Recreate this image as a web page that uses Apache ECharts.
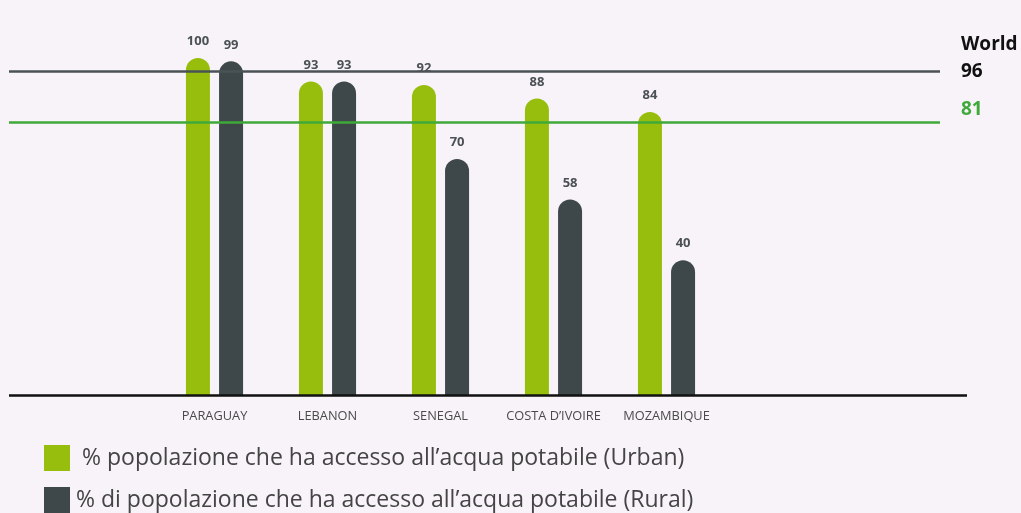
<!DOCTYPE html>
<html>
<head>
<meta charset="utf-8">
<script src="https://cdn.jsdelivr.net/npm/echarts@6/dist/echarts.min.js"></script>
<style>
html,body{margin:0;padding:0;background:#f7f3f8;}
#c{width:1021px;height:513px;}
</style>
</head>
<body>
<div id="c"></div>
<script>
const categories = ['PARAGUAY', 'LEBANON', 'SENEGAL', 'COSTA D\u2019IVOIRE', 'MOZAMBIQUE'];
const urbanValues = [100, 93, 92, 88, 84];
const ruralValues = [99, 93, 70, 58, 40];
const seriesNames = [
  '% popolazione che ha accesso all\u2019acqua potabile (Urban)',
  '% di popolazione che ha accesso all\u2019acqua potabile (Rural)'
];
const worldValues = [96, 81];
const worldTitle = 'World';

const GREEN = '#97be0d';
const DARK = '#3e4749';
const FONT = '"Open Sans", "Noto Sans", sans-serif';

const chart = echarts.init(document.getElementById('c'), null, {renderer: 'canvas'});

const valueLabel = {
  show: true,
  position: 'top',
  distance: 10,
  color: '#4b5054',
  fontFamily: FONT,
  fontWeight: 'bold',
  fontSize: 13
};

chart.setOption({
  backgroundColor: '#f7f3f8',
  animation: false,
  grid: {left: 158, right: 298, top: 58, bottom: 118},
  xAxis: {
    type: 'category',
    data: categories,
    axisLine: {show: false},
    axisTick: {show: false},
    axisLabel: {
      interval: 0,
      margin: 15,
      color: '#4a4a4a',
      fontFamily: FONT,
      fontSize: 12.8
    }
  },
  yAxis: {
    type: 'value',
    min: 0,
    max: 100,
    show: false,
    splitLine: {show: false}
  },
  legend: {
    orient: 'vertical',
    left: 44,
    top: 445,
    height: 120,
    padding: 0,
    itemWidth: 26,
    itemHeight: 26,
    itemGap: 16,
    icon: 'rect',
    textStyle: {fontFamily: FONT, fontSize: 23, color: '#444444'},
    data: [
      {name: seriesNames[0], textStyle: {padding: [6, 0, 0, 7]}},
      {name: seriesNames[1], textStyle: {padding: [4, 0, 0, 1]}}
    ]
  },
  series: [
    {
      name: seriesNames[0],
      type: 'bar',
      data: urbanValues,
      barWidth: 24,
      barGap: '38%',
      itemStyle: {color: GREEN, borderRadius: [12, 12, 0, 0]},
      label: valueLabel,
      markLine: {
        silent: true,
        symbol: ['none', 'none'],
        data: [
          [
            {yAxis: 0, x: 9, lineStyle: {color: '#111111', width: 2.5, type: 'solid'}, label: {show: false}},
            {yAxis: 0, x: 967}
          ],
          [
            {yAxis: worldValues[0], x: 9, lineStyle: {color: '#4a5256', width: 2.5, type: 'solid'},
             label: {
               show: true, position: 'end', distance: 21,
               formatter: '{w|' + worldTitle + '}\n{w|' + worldValues[0] + '}\n{e| }',
               rich: {
                 w: {color: '#111111', fontFamily: FONT, fontWeight: 'bold', fontSize: 19, lineHeight: 27},
                 e: {fontSize: 10, lineHeight: 27}
               },
               align: 'left'
             }},
            {yAxis: worldValues[0], x: 940}
          ],
          [
            {yAxis: worldValues[1], x: 9, lineStyle: {color: '#3fa93a', width: 2.5, type: 'solid'},
             label: {
               show: true, position: 'end', distance: 21,
               formatter: '{v|' + worldValues[1] + '}\n{e| }',
               rich: {
                 v: {color: '#3fa93a', fontFamily: FONT, fontWeight: 'bold', fontSize: 19, lineHeight: 24},
                 e: {fontSize: 10, lineHeight: 24}
               },
               align: 'left'
             }},
            {yAxis: worldValues[1], x: 940}
          ]
        ]
      }
    },
    {
      name: seriesNames[1],
      type: 'bar',
      data: ruralValues,
      barWidth: 24,
      barGap: '38%',
      itemStyle: {color: DARK, borderRadius: [12, 12, 0, 0]},
      label: valueLabel
    }
  ]
});
</script>
</body>
</html>
